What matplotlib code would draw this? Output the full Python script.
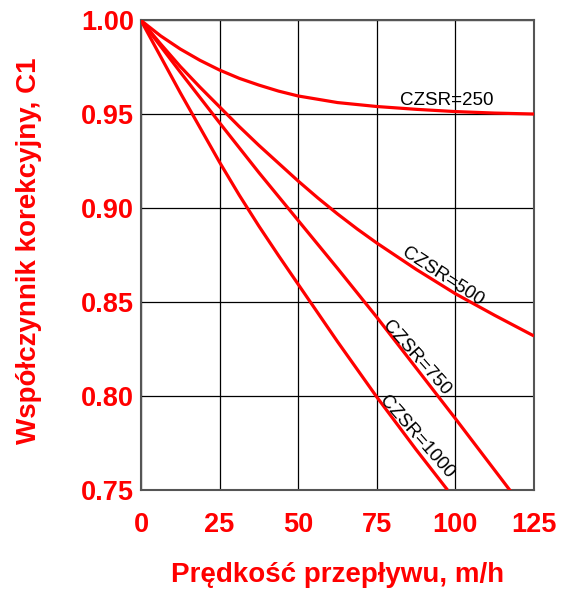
import matplotlib
matplotlib.use("Agg")
import matplotlib.pyplot as plt

# dane
predkosc_250 = [0, 6.25, 12.5, 18.75, 25, 31.25, 37.5, 43.75, 50, 62.5, 75, 87.5, 100, 112.5, 125]
c1_250 = [1.000, 0.9918, 0.9848, 0.9788, 0.9736, 0.9692, 0.9656, 0.9624, 0.9598,
          0.9563, 0.9542, 0.9527, 0.9515, 0.9507, 0.9502]

predkosc_500 = [0, 6.25, 12.5, 18.75, 25, 31.25, 37.5, 43.75, 50, 56.25, 62.5, 68.75, 75,
                87.5, 100, 112.5, 125]
c1_500 = [1.000, 0.9875, 0.9755, 0.9645, 0.954, 0.9435, 0.9335, 0.924, 0.9145, 0.9055,
          0.897, 0.889, 0.8815, 0.8675, 0.8545, 0.843, 0.832]

predkosc_750 = [0, 12.5, 25, 37.5, 50, 62.5, 75, 87.5, 100, 112.5, 117.5]
c1_750 = [1.000, 0.9725, 0.9455, 0.919, 0.8935, 0.868, 0.842, 0.815, 0.788, 0.7605, 0.7495]

predkosc_1000 = [0, 12.5, 25, 31.25, 37.5, 43.75, 50, 62.5, 75, 87.5, 97.5]
c1_1000 = [1.000, 0.9615, 0.9245, 0.907, 0.8905, 0.8748, 0.8595, 0.829, 0.7995, 0.7715, 0.750]

x_ticks = [0, 25, 50, 75, 100, 125]
y_ticks = [0.75, 0.80, 0.85, 0.90, 0.95, 1.00]

plt.rcParams["font.family"] = ["Liberation Sans", "DejaVu Sans"]

fig = plt.figure(figsize=(5.62, 5.89), dpi=100)
ax = fig.add_axes([0.2509, 0.1681, 0.6993, 0.7971])

for xs, ys in [(predkosc_250, c1_250), (predkosc_500, c1_500),
               (predkosc_750, c1_750), (predkosc_1000, c1_1000)]:
    ax.plot(xs, ys, color="#ff0000", lw=2.3, solid_capstyle="butt",
            solid_joinstyle="round", zorder=3)

ax.set_xlim(0, 125)
ax.set_ylim(0.75, 1.00)
ax.set_xticks(x_ticks)
ax.set_yticks(y_ticks)
ax.set_xticklabels([str(v) for v in x_ticks])
ax.set_yticklabels([f"{v:.2f}" for v in y_ticks])
ax.tick_params(axis="both", length=0, labelsize=19.5, labelcolor="#ff0000")
ax.tick_params(axis="x", pad=16)
ax.tick_params(axis="y", pad=5)
for lab in ax.get_xticklabels() + ax.get_yticklabels():
    lab.set_fontweight("bold")

ax.grid(True, color="black", lw=0.9)
for s in ax.spines.values():
    s.set_color("#555555")
    s.set_linewidth(1.5)

ax.set_xlabel("Prędkość przepływu, m/h", fontsize=20, fontweight="bold", color="#ff0000")
ax.set_ylabel("Współczynnik korekcyjny, C1", fontsize=20, fontweight="bold", color="#ff0000")
ax.xaxis.set_label_coords(0.5, -0.153)
ax.yaxis.set_label_coords(-0.252, 0.51)

# opisy krzywych
ax.text(97.3, 0.9572, "CZSR=250", fontsize=13.5, ha="center", va="center")
ax.text(96.0, 0.8634, "CZSR=500", fontsize=13.5, ha="center", va="center", rotation=-33)
ax.text(87.6, 0.820, "CZSR=750", fontsize=13.5, ha="center", va="center", rotation=-48.5)
ax.text(87.8, 0.7784, "CZSR=1000", fontsize=13.5, ha="center", va="center", rotation=-48.7)

fig.savefig("out.png", dpi=100)
